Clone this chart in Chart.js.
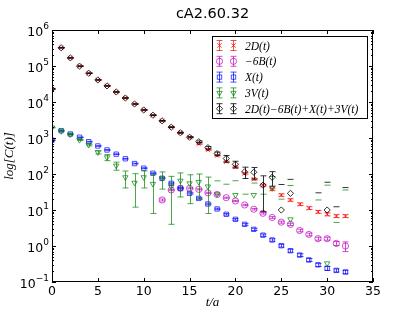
<!DOCTYPE html>
<html>
<head>
<meta charset="utf-8">
<script src="https://cdn.jsdelivr.net/npm/chart.js@4.4.0/dist/chart.umd.min.js"></script>
<style>
  body { margin: 0; background: #fff; }
  canvas { display: block; }
</style>
</head>
<body>
<canvas id="c" width="415" height="312"></canvas>
<script>
// time slices
const tVals = [0, 1, 2, 3, 4, 5, 6, 7, 8, 9, 10, 11, 12, 13, 14, 15, 16, 17, 18, 19, 20, 21, 22, 23, 24, 25, 26, 27, 28, 29, 30, 31, 32];

// 2D(t)
const d2 = [23000, 320000, 168000, 99000, 63000, 41000, 28000, 19000, 12900, 8800, 6000, 4300, 3000, 2000, 1400, 1050, 680, 465, 325, 220, 158, 104, 72, 49, 38, 26, 19, 14.5, 11.3, 8.9, 7.6, 6.8, 6.8];
const d2Err = [200, 2000, 1000, 600, 400, 300, 200, 150, 100, 70, 50, 40, 30, 20, 15, 12, 10, 9, 8, 7, 6, 5, 4, 3, 2.5, 2, 1.5, 1.2, 1, 0.8, 0.7, 0.6, 0.6];

// -6B(t)  (not shown where negative)
const b6 = [null, null, null, null, null, null, null, null, null, null, null, null, 19, 36, 40, 40, 37.5, 30, 27, 22, 17.8, 13.8, 10.5, 8.1, 6.2, 4.6, 4.0, 2.7, 2.1, 1.6, 1.6, 1.18, 1.0];
const b6Err = [0, 0, 0, 0, 0, 0, 0, 0, 0, 0, 0, 0, 1.2, 1.5, 1.4, 1.3, 1.2, 1.0, 0.9, 0.8, 0.7, 0.6, 0.5, 0.4, 0.35, 0.3, 0.28, 0.22, 0.18, 0.15, 0.15, 0.15, 0.3];

// X(t)
const xT = [870, 1600, 1290, 1050, 790, 600, 465, 355, 265, 195, 145, 105, 76, 55, 40, 29, 21, 14.7, 10.7, 7.6, 5.5, 4.0, 2.9, 2.0, 1.47, 1.02, 0.74, 0.56, 0.41, 0.30, 0.24, 0.21, 0.19];
const xErr = [20, 30, 25, 20, 16, 12, 10, 8, 6, 5, 4, 3, 2.5, 2, 1.5, 1.2, 0.9, 0.7, 0.5, 0.4, 0.3, 0.25, 0.2, 0.15, 0.12, 0.09, 0.07, 0.05, 0.04, 0.03, 0.03, 0.02, 0.02];

// 3V(t)
const v3 = [1950, 1550, 1250, 880, 640, 400, 290, 170, 81, 57, 81, 53, 76, 45, 65, 55, 60, 45, 27.5, -5, 26, -10, 26, -10, 40, -20, 5.5, -30, -30, -20, 0.33, -30, -20];
const v3Err = [40, 40, 35, 30, 35, 40, 55, 43, 40, 45, 40, 45, 38, 41, 42, 40, 40, 37, 37, 57, 39, 37.5, 30, 37.5, 45, 40, 42.5, 10, 10, 39, 48.7, 34.5, 56];

// 2D(t)-6B(t)+X(t)+3V(t)
const total = [23000, 320000, 168000, 99000, 63000, 41000, 28000, 19000, 12900, 8800, 6000, 4300, 3000, 2000, 1400, 1050, 790, 540, 370, 270, 186, 115, 112, 49, 81, 10, 29, -20, -20, -10, 10, -20, -10];
const totalErr = [200, 2000, 1000, 600, 400, 300, 200, 150, 100, 80, 70, 60, 50, 45, 42, 40, 40, 38, 37, 57, 40, 40, 40, 40, 35, 41, 42, 10, 10, 40, 49, 32.3, 52];

const seriesLabels = ['2D(t)', '\u22126B(t)', 'X(t)', '3V(t)', '2D(t)\u22126B(t)+X(t)+3V(t)'];

const xTicks = [0, 5, 10, 15, 20, 25, 30, 35];
const yTicks = [0.1, 1, 10, 100, 1000, 10000, 100000, 1000000];
const yTickExp = ['\u22121', '0', '1', '2', '3', '4', '5', '6'];

const toPoints = (vals) => tVals.map((t, i) => ({ x: t, y: (vals[i] !== null && vals[i] > 0) ? vals[i] : null }));

const makeSet = (label, vals, errs, color, style, rot, order) => ({
  label: label,
  data: toPoints(vals),
  raw: vals,
  err: errs,
  showLine: false,
  borderColor: color,
  backgroundColor: 'rgba(0,0,0,0)',
  pointStyle: style,
  pointRotation: rot,
  pointRadius: 3.1,
  pointBorderWidth: 1,
  pointBackgroundColor: 'rgba(0,0,0,0)',
  clip: 0,
  order: order
});

// error bars, drawn right after each dataset so the layering follows it
const errorBars = {
  id: 'errorBars',
  afterDatasetDraw(chart, args) {
    const ds = chart.data.datasets[args.index];
    const xs = chart.scales.x, ys = chart.scales.y;
    const a = chart.chartArea;
    const ctx = chart.ctx;
    ctx.save();
    ctx.beginPath();
    ctx.rect(a.left, a.top, a.right - a.left, a.bottom - a.top);
    ctx.clip();
    ctx.strokeStyle = ds.borderColor;
    ctx.lineWidth = 1;
    ds.raw.forEach((v, i) => {
      if (v === null) return;
      const e = ds.err[i];
      const px = Math.round(xs.getPixelForValue(tVals[i])) + 0.5;
      const hi = v + e, lo = v - e;
      ctx.beginPath();
      if (lo > 0) {
        ctx.moveTo(px, ys.getPixelForValue(lo));
        ctx.lineTo(px, ys.getPixelForValue(hi));
      }
      if (hi > 0) {
        const y = ys.getPixelForValue(hi);
        ctx.moveTo(px - 3, y); ctx.lineTo(px + 3, y);
      }
      if (lo > 0) {
        const y = ys.getPixelForValue(lo);
        ctx.moveTo(px - 3, y); ctx.lineTo(px + 3, y);
      }
      ctx.stroke();
    });
    ctx.restore();
  }
};

// frame, inward ticks, y labels, titles and legend
const decorations = {
  id: 'decorations',
  afterDraw(chart) {
    const ctx = chart.ctx;
    const a = chart.chartArea;
    const xs = chart.scales.x, ys = chart.scales.y;
    ctx.save();
    ctx.strokeStyle = '#000';
    ctx.lineWidth = 1;
    ctx.strokeRect(a.left + 0.5, a.top + 0.5, a.right - a.left - 1, a.bottom - a.top - 1);

    ctx.beginPath();
    xTicks.forEach(v => {
      const px = Math.round(xs.getPixelForValue(v)) + 0.5;
      ctx.moveTo(px, a.bottom); ctx.lineTo(px, a.bottom - 4);
      ctx.moveTo(px, a.top); ctx.lineTo(px, a.top + 4);
    });
    yTicks.forEach((v, k) => {
      const py = Math.round(ys.getPixelForValue(v)) + 0.5;
      ctx.moveTo(a.left, py); ctx.lineTo(a.left + 4, py);
      ctx.moveTo(a.right, py); ctx.lineTo(a.right - 4, py);
      if (k < yTicks.length - 1) {
        for (let m = 2; m <= 9; m++) {
          const pm = Math.round(ys.getPixelForValue(v * m)) + 0.5;
          ctx.moveTo(a.left, pm); ctx.lineTo(a.left + 2, pm);
          ctx.moveTo(a.right, pm); ctx.lineTo(a.right - 2, pm);
        }
      }
    });
    ctx.stroke();

    // y tick labels 10^k
    ctx.fillStyle = '#000';
    yTicks.forEach((v, k) => {
      const py = ys.getPixelForValue(v);
      ctx.font = '9px "DejaVu Sans"';
      const ew = ctx.measureText(yTickExp[k]).width;
      ctx.textAlign = 'right';
      ctx.textBaseline = 'alphabetic';
      ctx.fillText(yTickExp[k], a.left - 3, py - 1);
      ctx.font = '12.5px "DejaVu Sans"';
      ctx.textBaseline = 'middle';
      ctx.fillText('10', a.left - 3 - ew, py + 3);
    });

    // title
    ctx.font = '14.5px "DejaVu Sans"';
    ctx.textAlign = 'center';
    ctx.textBaseline = 'middle';
    ctx.fillText('cA2.60.32', (a.left + a.right) / 2, 14);

    // axis labels
    ctx.font = 'italic 13px "Liberation Serif"';
    ctx.fillText('t/a', (a.left + a.right) / 2, 303);
    ctx.save();
    ctx.translate(10, (a.top + a.bottom) / 2);
    ctx.rotate(-Math.PI / 2);
    ctx.fillText('log[C(t)]', 0, 0);
    ctx.restore();

    // legend
    const lx = 212.5, ly = 36.5, lw = 155, lh = 82;
    ctx.fillStyle = '#fff';
    ctx.fillRect(lx, ly, lw, lh);
    ctx.strokeStyle = '#000';
    ctx.strokeRect(lx, ly, lw, lh);
    const sets = chart.data.datasets;
    sets.forEach((ds, i) => {
      const ry = ly + 9 + i * 15.8;
      [219.5, 233.5].forEach(mx => {
        ctx.strokeStyle = ds.borderColor;
        ctx.fillStyle = 'rgba(0,0,0,0)';
        ctx.lineWidth = 1;
        ctx.beginPath();
        ctx.moveTo(mx, ry - 5); ctx.lineTo(mx, ry + 5);
        ctx.moveTo(mx - 3, ry - 5); ctx.lineTo(mx + 3, ry - 5);
        ctx.moveTo(mx - 3, ry + 5); ctx.lineTo(mx + 3, ry + 5);
        ctx.stroke();
        Chart.helpers.drawPoint(ctx, {
          pointStyle: ds.pointStyle, rotation: ds.pointRotation, radius: ds.pointRadius, borderWidth: 1
        }, mx, ry);
      });
      ctx.fillStyle = '#000';
      ctx.font = 'italic 11.5px "Liberation Serif"';
      ctx.textAlign = 'left';
      ctx.textBaseline = 'middle';
      ctx.fillText(seriesLabels[i], 245, ry + 1);
    });
    ctx.restore();
  }
};

new Chart(document.getElementById('c'), {
  type: 'scatter',
  data: {
    datasets: [
      makeSet(seriesLabels[0], d2, d2Err, 'rgba(255,0,0,0.7)', 'crossRot', 0, 5),
      makeSet(seriesLabels[1], b6, b6Err, 'rgba(191,0,191,0.7)', 'circle', 0, 4),
      makeSet(seriesLabels[2], xT, xErr, 'rgba(0,0,255,0.7)', 'rect', 0, 3),
      makeSet(seriesLabels[3], v3, v3Err, 'rgba(0,128,0,0.7)', 'triangle', 180, 2),
      makeSet(seriesLabels[4], total, totalErr, 'rgba(0,0,0,0.8)', 'rectRot', 0, 1)
    ]
  },
  options: {
    responsive: false,
    animation: false,
    events: [],
    layout: { padding: { top: 30, right: 42, left: 0, bottom: 0 } },
    plugins: {
      legend: { display: false },
      title: { display: false },
      tooltip: { enabled: false }
    },
    scales: {
      x: {
        type: 'linear', min: 0, max: 35,
        afterBuildTicks: (s) => { s.ticks = xTicks.map(v => ({ value: v })); },
        ticks: { font: { family: 'DejaVu Sans', size: 12.5 }, color: '#000', padding: 2, maxRotation: 0, autoSkip: false },
        grid: { display: false, drawTicks: false },
        border: { display: false },
        afterFit: (s) => { s.height = 30; }
      },
      y: {
        type: 'logarithmic', min: 0.1, max: 1000000,
        ticks: { display: false },
        grid: { display: false, drawTicks: false },
        border: { display: false },
        afterFit: (s) => { s.width = 52; }
      }
    }
  },
  plugins: [errorBars, decorations]
});
</script>
</body>
</html>
